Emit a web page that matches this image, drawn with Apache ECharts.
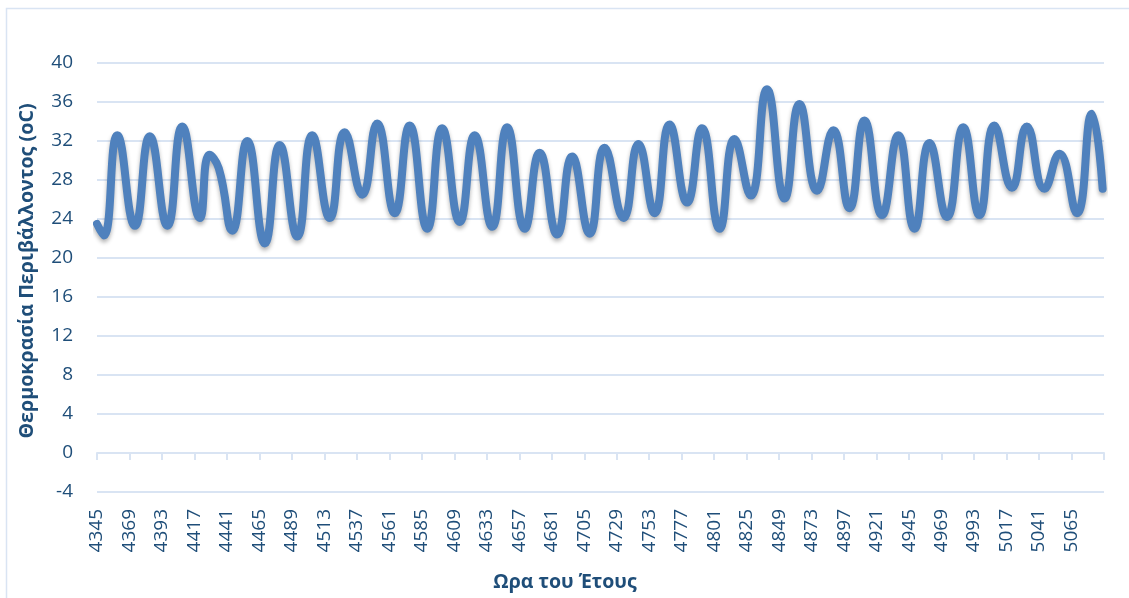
<!DOCTYPE html>
<html>
<head>
<meta charset="utf-8">
<script src="https://cdn.jsdelivr.net/npm/echarts@6/dist/echarts.min.js"></script>
<style>
  html, body { margin: 0; padding: 0; background: #fff; }
  #chart { width: 1129px; height: 598px; }
</style>
</head>
<body>
<div id="chart"></div>
<script>
// hours of the year on the category axis
const firstHour = 4345;
const lastHour = 5089;
const hours = [];
for (let h = firstHour; h <= lastHour; h++) hours.push(String(h));

// daily highs / lows (hour, temperature in oC)
const peakHours = [
    4345, 4350, 4360, 4373, 4384, 4397, 4408, 4421, 4428, 4435,
    4445, 4456, 4469, 4480, 4493, 4504, 4517, 4528, 4541, 4552,
    4565, 4576, 4589, 4600, 4613, 4624, 4637, 4648, 4661, 4672,
    4685, 4696, 4709, 4720, 4734, 4745, 4757, 4768, 4781, 4792,
    4805, 4816, 4828, 4840, 4853, 4864, 4877, 4889, 4901, 4912,
    4925, 4937, 4949, 4960, 4973, 4985, 4997, 5008, 5021, 5032,
    5045, 5056, 5069, 5080, 5088
];
const peakTemps = [
    23.5, 22.3, 32.6, 23.3, 32.5, 23.3, 33.5, 24.1, 30.6, 29.2,
    22.8, 32.0, 21.5, 31.6, 22.2, 32.6, 24.1, 32.9, 26.5, 33.8,
    24.6, 33.6, 23.0, 33.3, 23.7, 32.6, 23.2, 33.4, 23.0, 30.8,
    22.4, 30.4, 22.5, 31.3, 24.1, 31.7, 24.6, 33.7, 25.7, 33.3,
    23.0, 32.2, 26.4, 37.3, 26.1, 35.8, 26.9, 33.1, 25.1, 34.1,
    24.4, 32.6, 23.0, 31.8, 24.2, 33.4, 24.4, 33.6, 27.2, 33.5,
    27.1, 30.7, 24.6, 34.8, 27.1
];

const textColor = '#1f4e79';
const gridColor = '#d9e4f3';
const font = 'Open Sans';

const chart = echarts.init(document.getElementById('chart'));

const option = {
    animation: false,
    grid: {
        left: 97,
        right: 25,
        top: 63,
        bottom: 106,
        outerBoundsMode: 'none'
    },
    graphic: [
        {
            type: 'rect',
            shape: {x: 6.5, y: 8.5, width: 1140, height: 620},
            style: {fill: 'none', stroke: '#d9e4f3', lineWidth: 1.5}
        },
        {
            type: 'text',
            x: 565,
            y: 582,
            style: {
                text: 'Ωρα του Έτους',
                fill: textColor,
                font: 'bold 19.5px "Open Sans"',
                textAlign: 'center',
                textVerticalAlign: 'middle'
            }
        },
        {
            type: 'text',
            x: 27,
            y: 271,
            rotation: Math.PI / 2,
            style: {
                text: 'Θερμοκρασία Περιβάλλοντος (oC)',
                fill: textColor,
                font: 'bold 19.7px "Open Sans"',
                textAlign: 'center',
                textVerticalAlign: 'middle'
            }
        }
    ],
    xAxis: {
        type: 'category',
        data: hours,
        boundaryGap: false,
        axisLine: {onZero: true, lineStyle: {color: gridColor, width: 2}},
        axisTick: {
            show: true,
            length: 7,
            interval: (i) => i % 24 === 0,
            lineStyle: {color: gridColor, width: 2}
        },
        axisLabel: {
            interval: (i) => i % 24 === 0 && i < hours.length - 1,
            rotate: 90,
            margin: 17,
            color: textColor,
            fontFamily: font,
            fontSize: 19
        },
        splitLine: {show: false}
    },
    yAxis: {
        type: 'value',
        min: -4,
        max: 40,
        interval: 4,
        axisLine: {show: false},
        axisTick: {show: false},
        axisLabel: {
            margin: 24,
            color: textColor,
            fontFamily: font,
            fontSize: 19
        },
        splitLine: {lineStyle: {color: gridColor, width: 2}}
    },
    series: [{
        type: 'line',
        data: peakHours.map((h, i) => [String(h), peakTemps[i]]),
        smooth: 0.5,
        symbol: 'none',
        lineStyle: {
            color: '#4f81bd',
            width: 8,
            cap: 'round',
            join: 'round',
            shadowColor: 'rgba(0,0,0,0.3)',
            shadowBlur: 4,
            shadowOffsetY: 3
        }
    }]
};

chart.setOption(option);
</script>
</body>
</html>
